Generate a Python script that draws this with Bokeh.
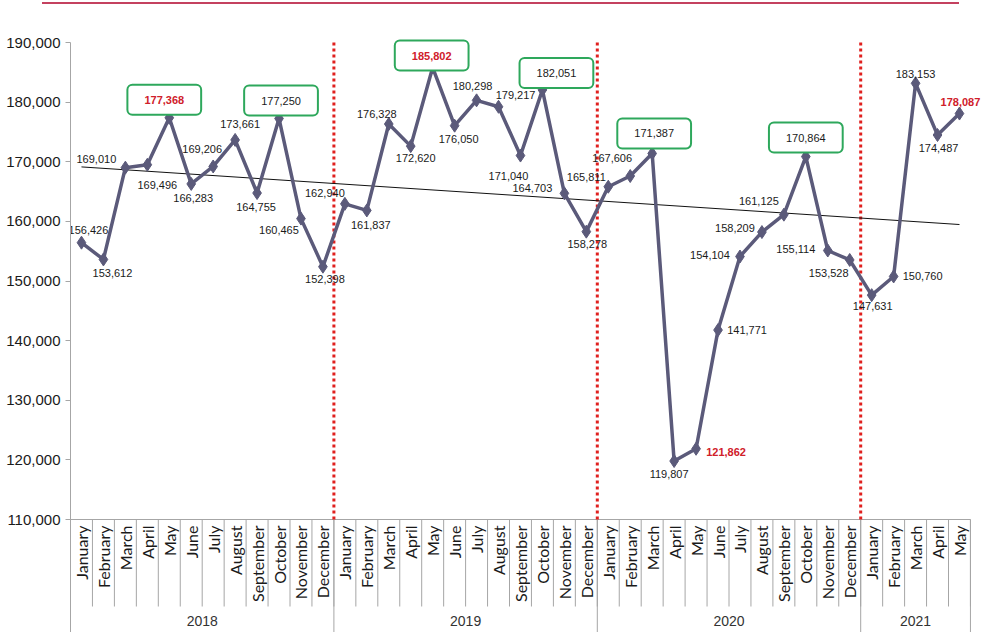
import numpy as np
from math import pi
from bokeh.plotting import figure
from bokeh.layouts import column
from bokeh.models import (Range1d, FixedTicker, NumeralTickFormatter, ColumnDataSource,
                          Label, Div)
from bokeh.core.properties import value
from bokeh.embed import file_html
from bokeh.resources import INLINE

# ---------------- data ----------------
month_names = ["January", "February", "March", "April", "May", "June", "July",
               "August", "September", "October", "November", "December"]
years = ["2018", "2019", "2020", "2021"]
months_per_year = [12, 12, 12, 5]
months = month_names * 3 + month_names[:5]

values = [156426, 153612, 169010, 169496, 177368, 166283, 169206, 173661, 164755, 177250, 160465, 152398,
          162940, 161837, 176328, 172620, 185802, 176050, 180298, 179217, 171040, 182051, 164703, 158278,
          165811, 167606, 171387, 119807, 121862, 141771, 154104, 158209, 161125, 170864, 155114, 153528,
          147631, 150760, 183153, 174487, 178087]

boxed = [4, 9, 16, 21, 26, 33]          # labels framed in green
highlighted = [4, 16, 28, 40]           # labels written in red
y_ticks = [110000, 120000, 130000, 140000, 150000, 160000, 170000, 180000, 190000]

# label offsets (px, screen; dy > 0 = down)
label_dx = [7, 9, -29, 10, -5, 2, -11, 5, -1, 2, -22, 2,
            -20, 4, -12, 5, -1, 4, -4, 17, -12, 14, -32, 1,
            -22, -18, 2, -5, 30, 29, -30, -27, -25, 0, -32, -21,
            1, 29, 0, 1, 1]
label_dy = [-13, 14, -9, 20, -18, 14, -17, -16, 14, -18, 11, 12,
            -11, 15, -10, 12, -12, 13, -14, -12, 20, -17, -5, 12,
            -10, -18, -20, 13, 3, 0, -2, -4, -14, -19, -2, 13,
            11, 0, -9, 13, -12]

# ---------------- geometry ----------------
W = 982
TOP_BAR = 6
H = 632 - TOP_BAR
PX_PER_10K = 59.625
TOP_190K = 42.0 - TOP_BAR
y_end = 190000 + TOP_190K / PX_PER_10K * 10000
y_start = y_end - H / PX_PER_10K * 10000
n = len(values)
LEFT = 70
x_end = (W - LEFT) / 21.95

p = figure(width=W, height=H, output_backend="svg", toolbar_location=None,
           x_range=Range1d(0, x_end), y_range=Range1d(y_start, y_end),
           x_axis_location=None, min_border=0, min_border_left=LEFT,
           min_border_right=0, min_border_top=0, min_border_bottom=0)
p.outline_line_color = None
p.xgrid.visible = False
p.ygrid.visible = False
p.background_fill_color = "white"

ax = p.yaxis[0]
ax.ticker = FixedTicker(ticks=y_ticks, minor_ticks=[])
ax.formatter = NumeralTickFormatter(format="0,0")
ax.bounds = (y_start, 190000)
ax.axis_line_color = "#a6a6a6"
ax.major_tick_line_color = "#a6a6a6"
ax.major_tick_out = 5
ax.major_tick_in = 0
ax.minor_tick_line_color = None
ax.major_label_standoff = 5
ax.major_label_text_font = "Liberation Sans"
ax.major_label_text_font_size = "15px"
ax.major_label_text_color = "#1a1a1a"

# category table below the plot
centers = [i + 0.5 for i in range(n)]
bounds_all = list(range(1, n + 1))
y_sep_bottom = 110000 - 87 / PX_PER_10K * 10000
p.segment(x0=bounds_all, y0=[110000] * n, x1=bounds_all, y1=[y_sep_bottom] * n,
          line_color="#a6a6a6", line_width=1)
year_bounds = list(np.cumsum(months_per_year))
p.segment(x0=year_bounds, y0=[110000] * len(year_bounds), x1=year_bounds,
          y1=[y_start] * len(year_bounds), line_color="#a6a6a6", line_width=1)
p.segment(x0=[0], y0=[110000], x1=[n], y1=[110000], line_color="#a6a6a6", line_width=1)

p.text(x=centers, y=[110000] * n, text=months, angle=pi / 2, y_offset=6,
       text_align="right", text_baseline="middle",
       text_font=value("Lato"), text_font_size="16px", text_color="#1a1a1a")

starts = [0] + year_bounds[:-1]
year_centers = [(a + b) / 2 for a, b in zip(starts, year_bounds)]
p.text(x=year_centers, y=[y_start] * len(years), text=years, y_offset=-12,
       text_align="center", text_baseline="middle",
       text_font=value("Liberation Sans"), text_font_size="14px", text_color="#333333")

# red dotted year separators
p.segment(x0=year_bounds[:-1], y0=[110000] * 3, x1=year_bounds[:-1], y1=[190000] * 3,
          line_color="#e0201e", line_width=3, line_dash="3 3")

# trend line (linear least squares fit of the series)
slope, icpt = np.polyfit(centers, values, 1)
p.line(x=[centers[0], centers[-1]], y=[slope * centers[0] + icpt, slope * centers[-1] + icpt],
       line_color="#111111", line_width=1)

# series
series_color = "#5b5a7a"
p.line(x=centers, y=values, line_color=series_color, line_width=3.5)
p.scatter(x=centers, y=values, marker="diamond", size=13, fill_color=series_color,
          line_color=series_color)

# data labels
labels = [f"{v:,}" for v in values]
plain = [i for i in range(n) if i not in boxed and i not in highlighted]
red_plain = [i for i in highlighted if i not in boxed]


def src(idx):
    return ColumnDataSource(dict(x=[centers[i] for i in idx], y=[values[i] for i in idx],
                                 t=[labels[i] for i in idx], dx=[label_dx[i] for i in idx],
                                 dy=[label_dy[i] for i in idx]))


p.text(x="x", y="y", text="t", x_offset="dx", y_offset="dy", source=src(plain),
       text_align="center", text_baseline="middle", text_font=value("Liberation Sans"),
       text_font_size="11px", text_color="#1a1a1a")
p.text(x="x", y="y", text="t", x_offset="dx", y_offset="dy", source=src(red_plain),
       text_align="center", text_baseline="middle", text_font=value("Liberation Sans"),
       text_font_size="11px", text_font_style="bold", text_color="#d0202a")

for i in boxed:
    red = i in highlighted
    p.add_layout(Label(x=centers[i], y=values[i], x_offset=label_dx[i], y_offset=-label_dy[i],
                       text=labels[i], text_align="center", text_baseline="middle",
                       text_font="Liberation Sans", text_font_size="11px",
                       text_font_style="bold" if red else "normal",
                       text_color="#d0202a" if red else "#1a1a1a",
                       background_fill_color="white", border_line_color="#2ea85c",
                       border_line_width=2, border_radius=5, padding=(17, 11)))

top_bar = Div(text="", width=917, height=2, margin=(2, 0, 2, 42),
              styles={"background-color": "#c4415f", "overflow": "hidden"})
layout = column(top_bar, p, spacing=0)

open("out.html", "w").write(file_html(layout, INLINE))
